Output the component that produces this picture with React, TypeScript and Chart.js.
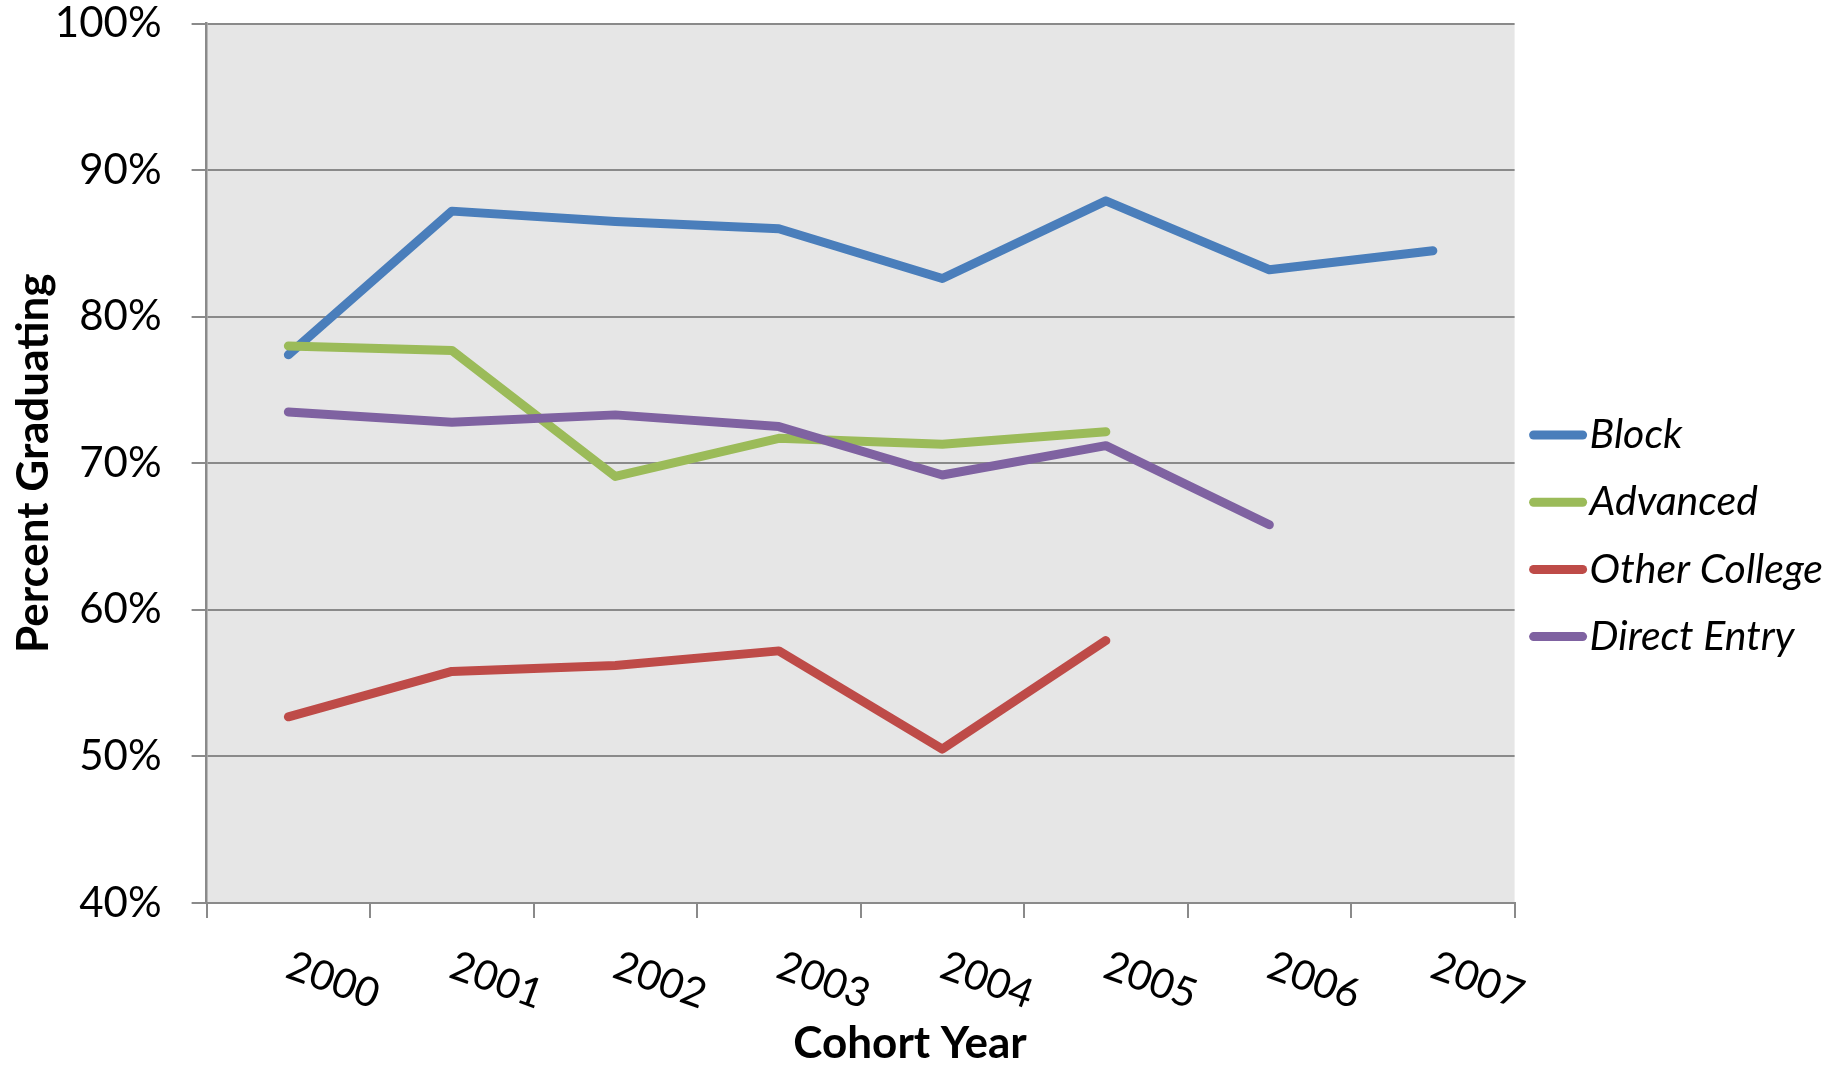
import React, { useEffect, useRef } from "react";
import { Chart, registerables } from "chart.js";

Chart.register(...registerables);

const years = ["2000", "2001", "2002", "2003", "2004", "2005", "2006", "2007"];
const block = [77.4, 87.2, 86.5, 86.0, 82.6, 87.9, 83.2, 84.5];
const advanced = [78.0, 77.7, 69.1, 71.7, 71.3, 72.15, null, null];
const otherCollege = [52.7, 55.8, 56.2, 57.2, 50.5, 57.9, null, null];
const directEntry = [73.5, 72.8, 73.3, 72.5, 69.2, 71.2, 65.8, null];
const seriesNames = ["Block", "Advanced", "Other College", "Direct Entry"];
const seriesColors = ["#4a7ebb", "#9bbb59", "#be4b48", "#7f62a1"];
const yMin = 40;
const yMax = 100;
const yStep = 10;
const yTitle = "Percent Graduating";
const xTitle = "Cohort Year";

const FONT = "Lato";
const GRID = "#8a8a8a";
const LINE_W = 9;

const customPlugin = {
  id: "custom",
  beforeDraw(chart: any) {
    const { ctx, chartArea } = chart;
    ctx.save();
    ctx.fillStyle = "#e6e6e6";
    ctx.fillRect(chartArea.left, chartArea.top, chartArea.right - chartArea.left, chartArea.bottom - chartArea.top);
    ctx.restore();
  },
  afterDraw(chart: any) {
    const { ctx } = chart;
    const xs = chart.scales.x;
    ctx.save();
    ctx.fillStyle = "#000";
    ctx.font = `41px ${FONT}`;
    ctx.textAlign = "left";
    ctx.textBaseline = "top";
    years.forEach((lab, i) => {
      const x = xs.getPixelForValue(i);
      ctx.save();
      ctx.translate(x + 7, xs.top + 42);
      ctx.rotate((20 * Math.PI) / 180);
      ctx.fillText(lab, 0, 0);
      ctx.restore();
    });
    ctx.font = `bold 44px ${FONT}`;
    ctx.textAlign = "center";
    ctx.textBaseline = "middle";
    ctx.fillText(xTitle, 910, 1044);

    // legend
    const legendTop = 435;
    const legendGap = 67.2;
    const lx = chart.chartArea.right + 16;
    seriesNames.forEach((name, i) => {
      const y = legendTop + i * legendGap;
      ctx.strokeStyle = seriesColors[i];
      ctx.lineWidth = LINE_W;
      ctx.lineCap = "round";
      ctx.beginPath();
      ctx.moveTo(lx + 3, y);
      ctx.lineTo(lx + 52, y);
      ctx.stroke();
      ctx.fillStyle = "#000";
      ctx.font = `italic 41px ${FONT}`;
      ctx.textAlign = "left";
      ctx.textBaseline = "middle";
      ctx.fillText(name, lx + 59, y);
    });
    ctx.restore();
  },
};

export default function App() {
  const ref = useRef<HTMLCanvasElement>(null);
  useEffect(() => {
    document.body.style.margin = "0";
    const seriesData = [block, advanced, otherCollege, directEntry];
    const chart = new Chart(ref.current as HTMLCanvasElement, {
      type: "line",
      data: {
        labels: years,
        datasets: seriesNames.map((name, i) => ({
          label: name,
          data: seriesData[i] as any,
          borderColor: seriesColors[i],
          backgroundColor: seriesColors[i],
          borderWidth: LINE_W,
          borderCapStyle: "round",
          borderJoinStyle: "round",
          pointRadius: 0,
          tension: 0,
          fill: false,
          order: seriesNames.length - i,
        })),
      },
      options: {
        responsive: false,
        animation: false,
        devicePixelRatio: 1,
        layout: { padding: { top: 23.5, right: 326.4, bottom: 0, left: 0 } },
        plugins: {
          legend: { display: false },
          tooltip: { enabled: false },
        },
        scales: {
          x: {
            type: "category",
            offset: true,
            ticks: { display: false },
            grid: {
              offset: true,
              drawOnChartArea: false,
              drawTicks: true,
              tickLength: 15,
              color: GRID,
              lineWidth: 2,
            },
            border: { display: true, color: GRID, width: 2 },
            afterFit(scale: any) {
              scale.height = 162;
              scale.paddingLeft = 0;
              scale.paddingRight = 0;
            },
          },
          y: {
            min: yMin,
            max: yMax,
            ticks: {
              stepSize: yStep,
              color: "#000",
              font: { family: FONT, size: 42, lineHeight: 1.0 },
              padding: 30,
              callback: (v: any) => `${v}%`,
            },
            grid: { color: GRID, lineWidth: 2, tickLength: 15, drawTicks: true },
            border: { display: true, color: GRID, width: 2.5 },
            title: {
              display: true,
              text: yTitle,
              color: "#000",
              font: { family: FONT, size: 44, weight: "bold", lineHeight: 1.2 },
              padding: { top: 7, bottom: 0 },
            },
            afterFit(scale: any) {
              scale.width = 206.6;
              scale.paddingTop = 0;
              scale.paddingBottom = 0;
            },
          },
        },
      },
      plugins: [customPlugin],
    } as any);
    return () => chart.destroy();
  }, []);
  return (
    <div style={{ width: 1841, height: 1065 }}>
      <canvas ref={ref} width={1841} height={1065} style={{ display: "block" }} />
    </div>
  );
}
